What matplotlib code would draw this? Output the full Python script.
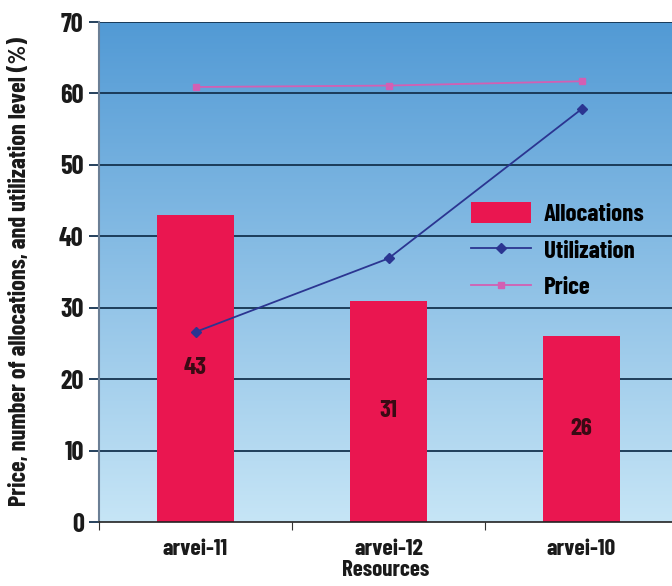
import numpy as np
import matplotlib
matplotlib.use('Agg')
import matplotlib.pyplot as plt

# Data
resources = ['arvei-11', 'arvei-12', 'arvei-10']
allocations = [43, 31, 26]
utilization = [26.6, 36.9, 57.8]
price = [60.9, 61.1, 61.7]

plt.rcParams['font.family'] = ['Barlow Condensed', 'DejaVu Sans']
plt.rcParams['font.weight'] = 'bold'
plt.rcParams['axes.labelweight'] = 'bold'

fig = plt.figure(figsize=(6.72, 5.86), dpi=100)
ax = fig.add_axes([99 / 672, 64 / 586, 573 / 672, 500 / 586])

x = np.arange(len(resources))
ax.set_xlim(-0.5, -0.5 + 573 / 193)
ax.set_ylim(0, 70)

# gradient background, dark blue at top to pale blue at the bottom
grad = np.linspace(0, 1, 256).reshape(-1, 1, 1)
top = np.array([0x52, 0x9a, 0xd5]) / 255
bot = np.array([0xc6, 0xe5, 0xf6]) / 255
img = top + (bot - top) * grad
ax.imshow(img, extent=[0, 1, 0, 1], transform=ax.transAxes, aspect='auto', zorder=0)

for v in range(10, 71, 10):
    ax.axhline(v, color='#14324f', lw=1.3, zorder=1)

ax.bar(x, allocations, width=0.4, color='#ea1650', zorder=2, label='Allocations')
for xi, v in zip(x, allocations):
    ax.text(xi, v / 2, str(v), ha='center', va='center', fontsize=18,
            color='#3a0a14', zorder=5)

ax.plot(x, utilization, color='#2b3591', lw=1.3, marker='D', ms=5, zorder=3, label='Utilization')
ax.plot(x, price, color='#d35fb3', lw=1.3, marker='s', ms=5, zorder=3, label='Price')

ax.set_yticks(range(0, 71, 10))
ax.set_yticklabels([str(v) for v in range(0, 71, 10)], fontsize=19, color='#1a1a1a')
ax.set_xticks([-0.5, 0.5, 1.5])
ax.set_xticklabels([])
ax.set_xticks(x, minor=True)
ax.set_xticklabels(resources, minor=True, fontsize=17, color='#1a1a1a')
ax.tick_params(axis='x', which='minor', length=0, pad=12)
ax.tick_params(axis='x', which='major', length=6, color='#333333', direction='out')
ax.tick_params(axis='y', length=7, width=1.3, color='#14324f', pad=4)

for s in ['top', 'right']:
    ax.spines[s].set_visible(False)
ax.spines['left'].set_color('#6b7f95')
ax.spines['left'].set_linewidth(1.5)
ax.spines['bottom'].set_color('#222222')
ax.spines['bottom'].set_linewidth(1.2)

ax.set_xlabel('Resources', fontsize=16.5, labelpad=1, color='#1a1a1a')
ax.set_ylabel('Price, number of allocations, and utilization level (%)', fontsize=17.5,
              labelpad=20, color='#1a1a1a')

handles, labels = ax.get_legend_handles_labels()
order = [labels.index(n) for n in ['Allocations', 'Utilization', 'Price']]
ax.legend([handles[i] for i in order], [labels[i] for i in order],
          loc='upper left', bbox_to_anchor=(0.61, 0.685), frameon=False,
          fontsize=18, labelspacing=0.5, handlelength=2.4, handleheight=0.9,
          handletextpad=0.5)

fig.savefig('out.png', dpi=100)
